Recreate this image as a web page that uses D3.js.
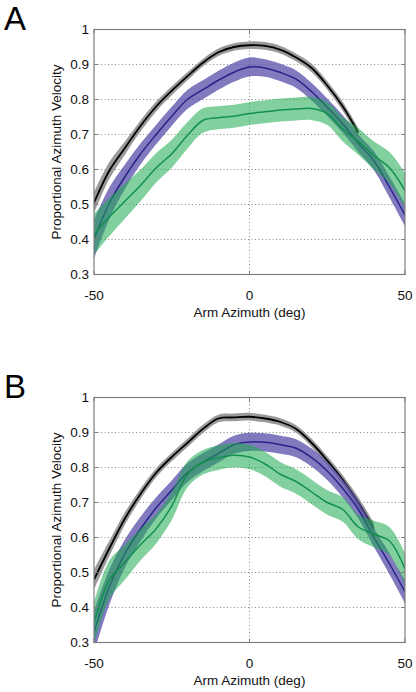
<!DOCTYPE html>
<html><head><meta charset="utf-8">
<script src="https://cdn.jsdelivr.net/npm/d3@7/dist/d3.min.js"></script>
<style>body{margin:0;background:#fff}svg{display:block}text{font-family:"Liberation Sans",Arial,sans-serif}</style>
</head><body><svg id="c" width="416" height="692"></svg>
<script>
// ---- data ----
const azimuth = [-50,-45,-40,-35,-30,-25,-20,-15,-10,-5,0,5,10,15,20,25,30,35,40,45,50];
const xTicks = [-50,0,50];
const yTicks = [0.3,0.4,0.5,0.6,0.7,0.8,0.9,1];
const yTickLabels = ["0.3","0.4","0.5","0.6","0.7","0.8","0.9","1"];
const panelLabels = ["A","B"];

// Panel A
const blackA   = [0.505,0.598,0.662,0.725,0.78,0.825,0.866,0.905,0.935,0.95,0.955,0.953,0.942,0.92,0.89,0.84,0.78,0.705,null,null,null];
const blackSeA = [0.03,0.024,0.019,0.016,0.014,0.013,0.012,0.011,0.011,0.011,0.011,0.011,0.011,0.011,0.012,0.012,0.013,0.014,null,null,null];
const blueA    = [0.40,0.505,0.58,0.645,0.70,0.752,0.80,0.828,0.855,0.878,0.893,0.89,0.877,0.858,0.822,0.778,0.73,0.675,0.625,0.55,0.47];
const blueSeA  = [0.055,0.045,0.035,0.03,0.028,0.027,0.027,0.027,0.027,0.027,0.027,0.025,0.025,0.025,0.025,0.025,0.025,0.025,0.027,0.03,0.032];
const greenA   = [0.415,0.465,0.51,0.555,0.605,0.645,0.697,0.74,0.748,0.752,0.76,0.765,0.77,0.773,0.774,0.76,0.715,0.68,0.64,0.605,0.54];
const greenSeA = [0.058,0.054,0.05,0.045,0.042,0.04,0.038,0.035,0.033,0.033,0.033,0.033,0.033,0.033,0.033,0.033,0.035,0.038,0.04,0.045,0.05];

// Panel B
const blackB   = [0.48,0.57,0.655,0.725,0.785,0.83,0.87,0.91,0.94,0.943,0.945,0.94,0.93,0.91,0.87,0.82,0.765,0.70,0.625,null,null];
const blackSeB = [0.028,0.022,0.018,0.015,0.013,0.012,0.012,0.012,0.011,0.011,0.011,0.011,0.011,0.011,0.012,0.012,0.013,0.015,0.017,null,null];
const blueB    = [0.33,0.46,0.555,0.625,0.685,0.735,0.785,0.815,0.84,0.865,0.873,0.872,0.865,0.855,0.828,0.79,0.74,0.68,0.60,0.525,0.445];
const blueSeB  = [0.06,0.05,0.04,0.035,0.03,0.028,0.027,0.026,0.026,0.026,0.026,0.026,0.026,0.026,0.026,0.026,0.026,0.026,0.027,0.03,0.033];
const greenB   = [0.355,0.48,0.53,0.58,0.625,0.69,0.78,0.815,0.828,0.835,0.83,0.81,0.78,0.76,0.73,0.70,0.68,0.63,0.61,0.59,0.51];
const greenSeB = [0.06,0.055,0.05,0.045,0.042,0.04,0.037,0.035,0.035,0.035,0.035,0.035,0.035,0.035,0.035,0.035,0.035,0.035,0.038,0.04,0.045];

const panels = [
  {label:panelLabels[0], top:29.5, black:blackA, blackSe:blackSeA, blue:blueA, blueSe:blueSeA, green:greenA, greenSe:greenSeA},
  {label:panelLabels[1], top:397.5, black:blackB, blackSe:blackSeB, blue:blueB, blueSe:blueSeB, green:greenB, greenSe:greenSeB}
];

const svg = d3.select("#c");
const L = 94, R = 405, H = 245;
const x = d3.scaleLinear().domain([-50,50]).range([L,R]);
const axisCol = "#7f7f7f";

panels.forEach((p,pi)=>{
  const y = d3.scaleLinear().domain([0.3,1]).range([p.top+H, p.top]);
  const g = svg.append("g");
  const clipId = "clip"+pi;
  svg.append("clipPath").attr("id",clipId).append("rect")
     .attr("x",L).attr("y",p.top).attr("width",R-L).attr("height",H);

  // grid
  g.selectAll(".hg").data(yTicks.filter(v=>v>0.3&&v<1)).join("line")
    .attr("x1",L).attr("x2",R).attr("y1",d=>y(d)).attr("y2",d=>y(d))
    .attr("stroke","#8a8a8a").attr("stroke-width",1).attr("stroke-dasharray","1,2.5");
  g.append("line").attr("x1",x(0)).attr("x2",x(0)).attr("y1",p.top).attr("y2",p.top+H)
    .attr("stroke","#8a8a8a").attr("stroke-width",1).attr("stroke-dasharray","1,2.5");

  const plot = g.append("g").attr("clip-path",`url(#${clipId})`);
  const mk = (m,se)=>azimuth.map((a,i)=>({a, m:m[i], lo: m[i]==null?null:m[i]-se[i], hi: m[i]==null?null:m[i]+se[i]}));
  const area = d3.area().defined(d=>d.m!=null).x(d=>x(d.a)).y0(d=>y(d.lo)).y1(d=>y(d.hi)).curve(d3.curveCatmullRom);
  const line = d3.line().defined(d=>d.m!=null).x(d=>x(d.a)).y(d=>y(d.m)).curve(d3.curveCatmullRom);

  const bk = mk(p.black,p.blackSe), bl = mk(p.blue,p.blueSe), gr = mk(p.green,p.greenSe);
  plot.append("path").attr("d",area(bk)).attr("fill","#9a9a9a");
  plot.append("path").attr("d",line(bk)).attr("fill","none").attr("stroke","#000").attr("stroke-width",1.8);
  plot.append("path").attr("d",area(bl)).attr("fill","rgb(88,78,170)").attr("fill-opacity",0.75);
  plot.append("path").attr("d",line(bl)).attr("fill","none").attr("stroke","#27258a").attr("stroke-width",1.5);
  plot.append("path").attr("d",area(gr)).attr("fill","rgb(30,170,80)").attr("fill-opacity",0.55);
  plot.append("path").attr("d",line(gr)).attr("fill","none").attr("stroke","#12904f").attr("stroke-width",1.5);

  // box
  g.append("rect").attr("x",L).attr("y",p.top).attr("width",R-L).attr("height",H)
    .attr("fill","none").attr("stroke",axisCol).attr("stroke-width",1.2);
  // ticks inside
  yTicks.forEach(v=>{
    g.append("line").attr("x1",L).attr("x2",L+4).attr("y1",y(v)).attr("y2",y(v)).attr("stroke",axisCol);
    g.append("line").attr("x1",R).attr("x2",R-4).attr("y1",y(v)).attr("y2",y(v)).attr("stroke",axisCol);
  });
  xTicks.forEach(v=>{
    g.append("line").attr("x1",x(v)).attr("x2",x(v)).attr("y1",p.top+H).attr("y2",p.top+H-4).attr("stroke",axisCol);
    g.append("line").attr("x1",x(v)).attr("x2",x(v)).attr("y1",p.top).attr("y2",p.top+4).attr("stroke",axisCol);
  });
  // tick labels
  g.selectAll(".yl").data(yTicks).join("text")
    .attr("x",L-5).attr("y",d=>y(d)+4.5).attr("text-anchor","end")
    .attr("font-size",13.5).attr("fill","#111").text((d,i)=>yTickLabels[i]);
  g.selectAll(".xl").data(xTicks).join("text")
    .attr("x",d=>x(d)).attr("y",p.top+H+25).attr("text-anchor","middle")
    .attr("font-size",13.5).attr("fill","#111").text(d=>d);
  // axis titles
  g.append("text").attr("x",(L+R)/2).attr("y",p.top+H+42).attr("text-anchor","middle")
    .attr("font-size",13.5).attr("fill","#111").text("Arm Azimuth (deg)");
  g.append("text").attr("transform",`translate(61,${p.top+H/2}) rotate(-90)`)
    .attr("text-anchor","middle").attr("font-size",13.5).attr("fill","#111").text("Proportional Azimuth Velocity");
  // panel label
  g.append("text").attr("x",4).attr("y",p.top+0.5).attr("font-size",33).attr("fill","#000").text(p.label);
});
</script></body></html>
